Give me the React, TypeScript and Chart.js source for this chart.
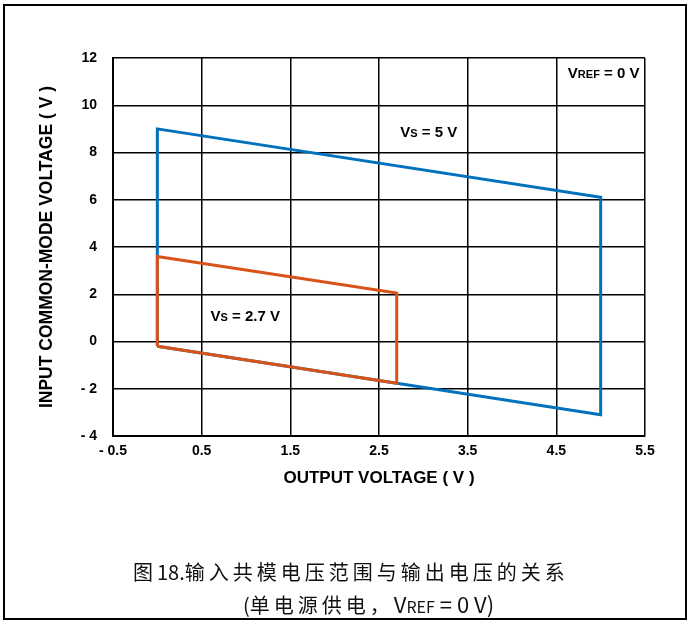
import React, { useEffect, useRef } from "react";
import { Chart, registerables } from "chart.js";

Chart.register(...registerables);

// ---- data ----
const blueX = [0, 0, 5, 5, 0];
const blueY = [-0.2, 9.0, 6.1, -3.1, -0.2];
const orangeX = [0, 0, 2.7, 2.7, 0];
const orangeY = [-0.2, 3.6, 2.05, -1.77, -0.2];

const xTicks = [-0.5, 0.5, 1.5, 2.5, 3.5, 4.5, 5.5];
const xTickLabels = ["- 0.5", "0.5", "1.5", "2.5", "3.5", "4.5", "5.5"];
const yTicks = [-4, -2, 0, 2, 4, 6, 8, 10, 12];
const yTickLabels = ["- 4", "- 2", "0", "2", "4", "6", "8", "10", "12"];

const xTitle = "OUTPUT VOLTAGE ( V )";
const yTitle = "INPUT COMMON-MODE VOLTAGE ( V )";

// annotation text: [main, small, rest]
const annoTexts = [
  ["V", "S", " = 5 V"],
  ["V", "S", " = 2.7 V"],
  ["V", "REF", " = 0 V"],
];
const annoX = [2.74, 0.6, 4.63];
const annoY = [8.86, 1.1, 11.36];

const FONT = '"Liberation Sans Narrow", "Arial Narrow", "Liberation Sans", Arial, sans-serif';

const annotationPlugin = {
  id: "annos",
  afterDatasetsDraw(chart: any) {
    const ctx = chart.ctx;
    const xs = chart.scales.x;
    const ys = chart.scales.y;
    ctx.save();
    ctx.fillStyle = "#000";
    ctx.textBaseline = "alphabetic";
    ctx.textAlign = "left";
    annoTexts.forEach((parts, i) => {
      let px = xs.getPixelForValue(annoX[i]);
      const py = ys.getPixelForValue(annoY[i]) + 5;
      parts.forEach((p, j) => {
        ctx.font = `bold ${j === 1 ? 11 : 15}px ${FONT}`;
        ctx.fillText(p, px, py);
        px += ctx.measureText(p).width;
      });
    });
    ctx.restore();
  },
  afterDraw(chart: any) {
    const ctx = chart.ctx;
    ctx.save();
    ctx.strokeStyle = "#000";
    ctx.lineWidth = 2;
    ctx.strokeRect(4, 5, 682, 614);
    ctx.restore();
  },
};

export default function App() {
  const ref = useRef<HTMLCanvasElement | null>(null);

  useEffect(() => {
    if (!ref.current) return;
    const chart = new Chart(ref.current, {
      type: "scatter",
      data: {
        datasets: [
          {
            label: "Vs = 5 V",
            data: blueX.map((x, i) => ({ x, y: blueY[i] })),
            showLine: true,
            borderColor: "#0072BD",
            backgroundColor: "#0072BD",
            borderWidth: 3,
            pointRadius: 0,
            fill: false,
            tension: 0,
            borderJoinStyle: "miter",
            order: 2,
          },
          {
            label: "Vs = 2.7 V",
            data: orangeX.map((x, i) => ({ x, y: orangeY[i] })),
            showLine: true,
            borderColor: "#D95319",
            backgroundColor: "#D95319",
            borderWidth: 3,
            pointRadius: 0,
            fill: false,
            tension: 0,
            borderJoinStyle: "miter",
            order: 1,
          },
        ],
      },
      options: {
        responsive: false,
        animation: false,
        devicePixelRatio: 1,
        layout: { padding: { top: 58, right: 43, left: 0, bottom: 0 } },
        plugins: { legend: { display: false }, tooltip: { enabled: false } },
        scales: {
          x: {
            type: "linear",
            min: -0.5,
            max: 5.5,
            afterBuildTicks: (s: any) => {
              s.ticks = xTicks.map((v) => ({ value: v }));
            },
            afterFit: (s: any) => {
              s.height = 186;
            },
            grid: { color: "#000", lineWidth: 1.5, drawTicks: false },
            border: { color: "#000", width: 2 },
            ticks: {
              callback: (v: any) => xTickLabels[xTicks.indexOf(Number(v))],
              font: { family: FONT, size: 14, weight: "bold" },
              color: "#000",
              padding: 7,
              maxRotation: 0,
              autoSkip: false,
            },
            title: {
              display: true,
              text: xTitle,
              color: "#000",
              font: { family: FONT, size: 17, weight: "bold" },
              padding: { top: 0, bottom: 133 },
            },
          },
          y: {
            type: "linear",
            min: -4,
            max: 12,
            afterBuildTicks: (s: any) => {
              s.ticks = yTicks.map((v) => ({ value: v }));
            },
            afterFit: (s: any) => {
              s.width = 113;
            },
            grid: { color: "#000", lineWidth: 1.5, drawTicks: false },
            border: { color: "#000", width: 2 },
            ticks: {
              callback: (v: any) => yTickLabels[yTicks.indexOf(Number(v))],
              font: { family: FONT, size: 14, weight: "bold" },
              color: "#000",
              padding: 16,
              autoSkip: false,
            },
            title: {
              display: true,
              text: yTitle,
              color: "#000",
              font: { family: FONT, size: 17.5, weight: "bold" },
              padding: { top: 37, bottom: 0 },
            },
          },
        },
      },
      plugins: [annotationPlugin],
    });
    return () => chart.destroy();
  }, []);

  const cjk: React.CSSProperties = { letterSpacing: "4px" };
  const capStyle: React.CSSProperties = {
    position: "absolute",
    fontFamily: '"Liberation Sans Narrow", "Noto Sans CJK SC", sans-serif',
    fontSize: 20,
    lineHeight: "28px",
    color: "#111",
    whiteSpace: "nowrap",
  };

  return (
    <div style={{ position: "absolute", left: 0, top: 0, width: 688, height: 622, background: "#fff" }}>
      <canvas ref={ref} width={688} height={622} style={{ position: "absolute", left: 0, top: 0 }} />
      <div style={{ ...capStyle, left: 133, top: 558 }}>
        <span style={cjk}>图</span>18.<span style={cjk}>输入共模电压范围与输出电压的关系</span>
      </div>
      <div style={{ ...capStyle, left: 243, top: 589 }}>
        (<span style={cjk}>单电源供电，</span><span style={{ fontSize: 22 }}>V</span>
        <span style={{ fontSize: 16 }}>REF</span>
        <span style={{ fontSize: 22 }}> = 0 V)</span>
      </div>
    </div>
  );
}
